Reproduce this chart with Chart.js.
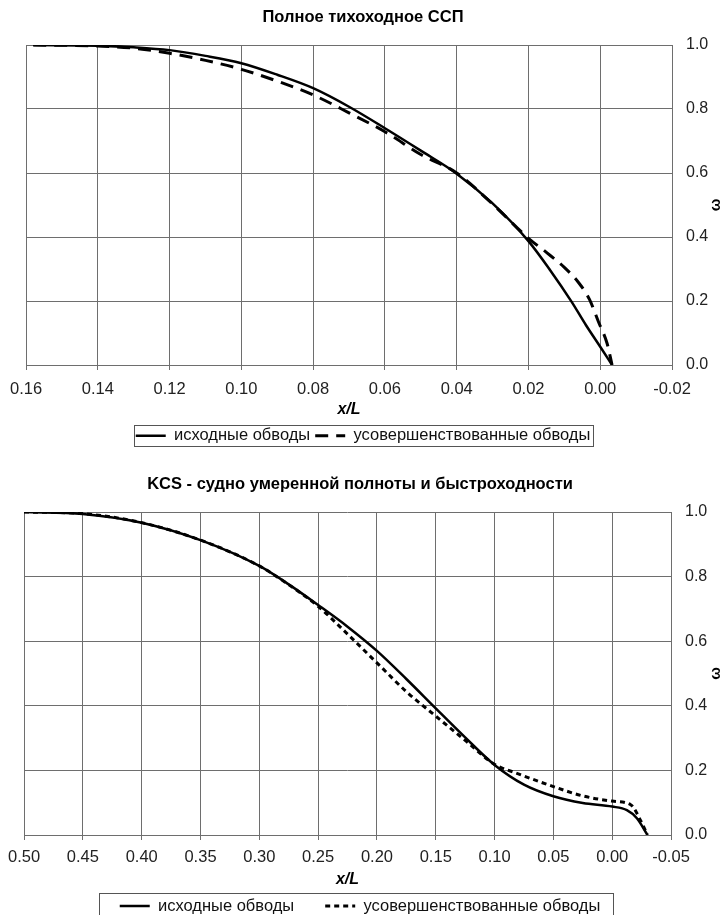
<!DOCTYPE html>
<html>
<head>
<meta charset="utf-8">
<script src="https://cdn.jsdelivr.net/npm/chart.js@4.4.0/dist/chart.umd.min.js"></script>
<style>
  html, body { margin: 0; padding: 0; background: #fff; overflow: hidden; }
  .wrap { position: absolute; left: 0; width: 726px; }
  #wrapTop { top: 0; height: 455px; }
  #wrapBottom { top: 455px; height: 470px; }
</style>
</head>
<body>
<div class="wrap" id="wrapTop"><canvas id="chartTop" width="726" height="455"></canvas></div>
<div class="wrap" id="wrapBottom"><canvas id="chartBottom" width="726" height="470"></canvas></div>
<script>
// --- data: полное тихоходное ССП ---
const sspXTicks = [0.16, 0.14, 0.12, 0.10, 0.08, 0.06, 0.04, 0.02, 0.00, -0.02];
const sspOrigX = [0.158, 0.140, 0.130, 0.120, 0.110, 0.100, 0.090, 0.080, 0.070, 0.060, 0.050, 0.040, 0.030, 0.020, 0.014, 0.008, 0.004, 0.000, -0.0033];
const sspOrigW = [1.000, 0.998, 0.993, 0.984, 0.966, 0.943, 0.907, 0.865, 0.807, 0.740, 0.670, 0.598, 0.505, 0.387, 0.297, 0.198, 0.125, 0.057, 0.000];
const sspImprX = [0.158, 0.140, 0.130, 0.120, 0.110, 0.100, 0.090, 0.080, 0.070, 0.060, 0.050, 0.040, 0.030, 0.020, 0.015, 0.010, 0.006, 0.003, 0.0005, -0.0019, -0.0033];
const sspImprW = [1.000, 0.997, 0.990, 0.974, 0.952, 0.924, 0.887, 0.844, 0.788, 0.729, 0.658, 0.600, 0.503, 0.396, 0.352, 0.305, 0.257, 0.205, 0.135, 0.068, 0.000];

// --- data: KCS ---
const kcsXTicks = [0.50, 0.45, 0.40, 0.35, 0.30, 0.25, 0.20, 0.15, 0.10, 0.05, 0.00, -0.05];
const kcsOrigX = [0.500, 0.450, 0.400, 0.350, 0.300, 0.275, 0.250, 0.225, 0.200, 0.175, 0.150, 0.125, 0.100, 0.075, 0.050, 0.025, 0.000, -0.0125, -0.021, -0.030];
const kcsOrigW = [1.000, 0.994, 0.967, 0.913, 0.833, 0.776, 0.712, 0.645, 0.570, 0.483, 0.392, 0.302, 0.217, 0.156, 0.120, 0.099, 0.088, 0.077, 0.052, 0.000];
const kcsImprX = [0.500, 0.450, 0.400, 0.350, 0.300, 0.275, 0.250, 0.225, 0.200, 0.175, 0.150, 0.125, 0.100, 0.081, 0.050, 0.025, 0.000, -0.016, -0.024, -0.030];
const kcsImprW = [1.000, 0.995, 0.967, 0.913, 0.833, 0.775, 0.708, 0.622, 0.533, 0.444, 0.368, 0.293, 0.219, 0.191, 0.150, 0.121, 0.105, 0.093, 0.046, 0.000];

const yTicks = [0, 0.2, 0.4, 0.6, 0.8, 1.0];
const seriesNames = ['исходные обводы', 'усовершенствованные обводы'];

Chart.defaults.font.family = "'Liberation Sans', Arial, Helvetica, sans-serif";
Chart.defaults.color = '#222';

const gridColor = '#6e6e6e';
const fmt = (v, d) => (Math.abs(v) < 1e-9 ? 0 : v).toFixed(d);
const pair = (xs, ys) => xs.map((x, i) => ({x: x, y: ys[i]}));

// box around the legend items
const legendFrame = {
  id: 'legendFrame',
  afterDraw(chart, args, opts) {
    const boxes = chart.legend && chart.legend.legendHitBoxes;
    if (!boxes || !boxes.length) return;
    const first = boxes[0], last = boxes[boxes.length - 1];
    const l = Math.round(first.left - opts.padL) + 0.5;
    const r = Math.round(last.left + last.width + opts.padR) + 0.5;
    const t = Math.round(first.top - opts.padT) + 0.5;
    const b = Math.round(first.top + first.height + opts.padB) + 0.5;
    const ctx = chart.ctx;
    ctx.save();
    ctx.strokeStyle = '#555';
    ctx.lineWidth = 1;
    ctx.strokeRect(l, t, r - l, b - t);
    ctx.restore();
  }
};

// rotated ω title at the right edge
const sideTitle = {
  id: 'sideTitle',
  afterDraw(chart, args, opts) {
    const area = chart.chartArea, ctx = chart.ctx;
    ctx.save();
    ctx.translate(chart.width - opts.inset, (area.top + area.bottom) / 2);
    ctx.rotate(-Math.PI / 2);
    ctx.font = 'bold 15px ' + Chart.defaults.font.family;
    ctx.fillStyle = '#000';
    ctx.textAlign = 'center';
    ctx.textBaseline = 'middle';
    ctx.fillText(opts.text, 0, 0);
    ctx.restore();
  }
};

function legendLabels(chart) {
  const items = Chart.defaults.plugins.legend.labels.generateLabels(chart);
  items.forEach(it => {
    const ds = chart.data.datasets[it.datasetIndex];
    it.lineWidth = ds.borderWidth;
    it.lineDash = ds.borderDash || [];
    it.strokeStyle = ds.borderColor;
    it.pointStyle = 'line';
  });
  return items;
}

function makeChart(id, c) {
  return new Chart(document.getElementById(id), {
    type: 'line',
    data: {
      datasets: [
        { label: seriesNames[0], data: pair(c.origX, c.origW), borderColor: '#000', borderWidth: 2.5,
          pointRadius: 0, fill: false, cubicInterpolationMode: 'monotone' },
        { label: seriesNames[1], data: pair(c.imprX, c.imprW), borderColor: '#000', borderWidth: 3,
          borderDash: c.dash, pointRadius: 0, fill: false, cubicInterpolationMode: 'monotone' }
      ]
    },
    options: {
      responsive: false,
      animation: false,
      devicePixelRatio: 1,
      layout: { padding: { left: 0, right: c.padRight, top: 0, bottom: c.padBottom } },
      plugins: {
        title: { display: true, text: c.title, color: '#000',
                 font: { size: 16.5, weight: 'bold' }, padding: c.titlePad },
        legend: {
          position: 'bottom',
          labels: { usePointStyle: true, pointStyle: 'line', pointStyleWidth: 30,
                    padding: c.legendPad, color: '#111', font: { size: 16.5 },
                    generateLabels: legendLabels }
        },
        tooltip: { enabled: false },
        legendFrame: c.frame,
        sideTitle: { text: 'ω', inset: 10 }
      },
      scales: {
        x: {
          type: 'linear', reverse: true,
          min: Math.min(...c.xTicks), max: Math.max(...c.xTicks),
          afterBuildTicks: s => { s.ticks = c.xTicks.map(v => ({value: v})); },
          afterFit: s => { s.height = c.xHeight; },
          ticks: { padding: c.xTickPad, maxRotation: 0, autoSkip: false, font: { size: 16.5 },
                   callback: v => fmt(v, 2) },
          grid: { color: gridColor, tickColor: gridColor, tickLength: 5 },
          border: { color: gridColor },
          title: { display: true, text: 'x/L', color: '#000',
                   font: { size: 16, weight: 'bold', style: 'italic' },
                   padding: { top: 0, bottom: c.xTitlePad } }
        },
        y: {
          position: 'right', min: 0, max: 1,
          afterBuildTicks: s => { s.ticks = yTicks.map(v => ({value: v})); },
          afterFit: s => { s.width = c.yWidth; },
          ticks: { padding: 14, font: { size: 16 }, callback: v => fmt(v, 1) },
          grid: { color: gridColor, drawTicks: false },
          border: { color: gridColor }
        },
        // empty left margin axis, keeps the legend centred on the whole page
        margin: {
          type: 'linear', position: 'left', display: true,
          afterFit: s => { s.width = c.leftGap; },
          ticks: { display: false }, grid: { display: false }, border: { display: false }
        }
      }
    },
    plugins: [legendFrame, sideTitle]
  });
}

makeChart('chartTop', {
  title: 'Полное тихоходное ССП',
  origX: sspOrigX, origW: sspOrigW, imprX: sspImprX, imprW: sspImprW,
  xTicks: sspXTicks, dash: [13, 8],
  leftGap: 24, yWidth: 54, padRight: 0, padBottom: 1,
  titlePad: { top: 8, bottom: 17.2 },
  xHeight: 57.5, xTickPad: 10, xTitlePad: 3,
  legendPad: 5,
  frame: { padL: 2, padR: 3, padT: 3, padB: 2 }
});

makeChart('chartBottom', {
  title: 'KCS - судно умеренной полноты и быстроходности',
  origX: kcsOrigX, origW: kcsOrigW, imprX: kcsImprX, imprW: kcsImprW,
  xTicks: kcsXTicks, dash: [5, 4],
  leftGap: 23, yWidth: 49, padRight: 6, padBottom: 0.75,
  titlePad: { top: 20, bottom: 17.2 },
  xHeight: 31.75, xTickPad: 8, xTitlePad: -22.85,
  legendPad: 31,
  frame: { padL: 21, padR: 13, padT: 5, padB: 4 }
});
</script>
</body>
</html>
